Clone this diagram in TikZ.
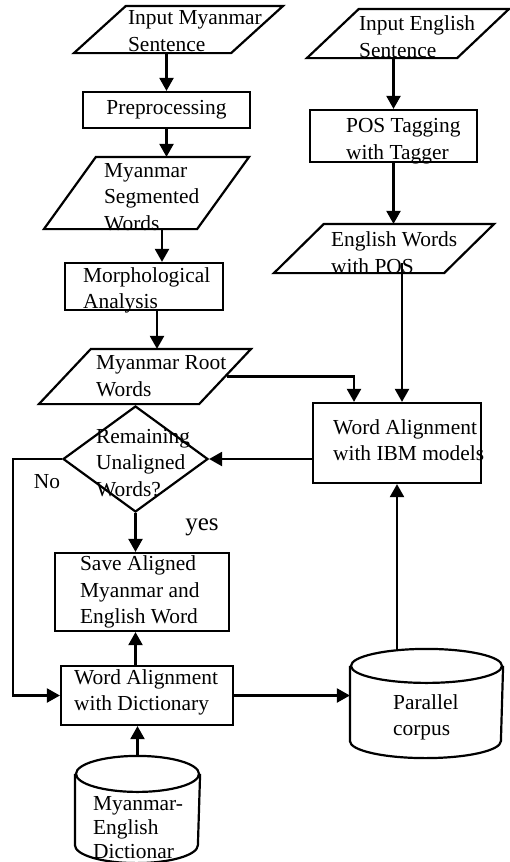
\documentclass[tikz,border=0pt]{standalone}
\usepackage{fontspec}
\setmainfont{Liberation Serif}
\usetikzlibrary{shapes.geometric, arrows.meta}

% outline of a slanted input/output box round node #1, slant #2
\newcommand{\slantbox}[2]{%
  \draw (#1.south west) -- ([xshift=-#2]#1.south east) -- (#1.north east) -- ([xshift=#2]#1.north west) -- cycle;}
% outline of a drum (database) round node #1, radii #2 and #3
\newcommand{\drum}[3]{%
  \draw ([yshift=-#3]#1.north west) -- ([yshift=#3]#1.south west)
    arc[start angle=180, end angle=360, x radius=#2, y radius=#3] -- ([yshift=-#3]#1.north east);
  \draw ([yshift=-#3]#1.north) ellipse[x radius=#2, y radius=#3];}

\begin{document}
\begin{tikzpicture}[x=1pt, y=-1pt, >={Triangle[length=13pt,width=14pt]}, line width=2.2pt,
  font=\fontsize{21.4pt}{26.5pt}\selectfont,
  box/.style={draw, rectangle, inner sep=0pt},
  io/.style={rectangle, inner sep=0pt},
  txt/.style={anchor=west, align=left, inner sep=0pt}]
  \useasboundingbox (0,0) rectangle (510,862);

  % Myanmar side
  \node[io, minimum width=207, minimum height=45] (inmy) at (178.5,29.5) {};
  \node[box, minimum width=167, minimum height=36] (prep) at (166.5,110) {Preprocessing};
  \node[io, minimum width=203, minimum height=70] (seg) at (146.5,193) {};
  \node[box, minimum width=158, minimum height=47] (morph) at (144,286.5) {};
  \node[io, minimum width=210, minimum height=53] (root) at (145,376.5) {};
  \node[draw, diamond, inner sep=0pt, minimum width=145, minimum height=106] (check) at (135.5,459) {};
  \node[box, minimum width=174, minimum height=78] (save) at (142,592) {};
  \node[box, minimum width=172, minimum height=59] (dictal) at (147,695.5) {};
  \node[io, minimum width=123, minimum height=105] (dictdb) at (137.5,809.5) {};

  % English side
  \node[io, minimum width=200, minimum height=47] (inen) at (408,33.5) {};
  \node[box, minimum width=167, minimum height=52] (pos) at (393.5,136) {};
  \node[io, minimum width=218, minimum height=47] (enpos) at (384,248.5) {};
  \node[box, minimum width=168, minimum height=80] (ibm) at (397,443) {};
  \node[io, minimum width=151, minimum height=107] (corpus) at (426.5,703.5) {};

  \slantbox{inmy}{52pt}
  \slantbox{seg}{52pt}
  \slantbox{root}{52pt}
  \slantbox{inen}{52pt}
  \slantbox{enpos}{50pt}
  \drum{dictdb}{61.5pt}{18pt}
  \drum{corpus}{75.5pt}{17pt}

  % texts
  \node[txt] (t-inmy) at (127,31) {Input Myanmar\\Sentence};
  \node[txt] (t-seg) at (103,197) {Myanmar\\Segmented\\Words};
  \node[txt] (t-morph) at (82,290.5) {Morphological\\Analysis};
  \node[txt] (t-root) at (95,376) {Myanmar Root\\Words};
  \node[txt] (t-check) at (95,463) {Remaining\\Unaligned\\Words?};
  \node[txt] (t-save) at (79,592) {Save Aligned\\Myanmar and\\English Word};
  \node[txt] (t-dictal) at (73,692.5) {Word Alignment\\with Dictionary};
  \node[txt, font=\fontsize{21.4pt}{24pt}\selectfont] (t-dictdb) at (92,828) {Myanmar-\\English\\Dictionar};
  \node[txt] (t-inen) at (358,36.5) {Input English\\Sentence};
  \node[txt] (t-pos) at (345,141) {POS Tagging\\with Tagger};
  \node[txt] (t-enpos) at (330,252.5) {English Words\\with POS};
  \node[txt] (t-ibm) at (332,440) {Word Alignment\\with IBM models};
  \node[txt] (t-corpus) at (392,717.5) {Parallel\\corpus};
  \node (no) at (47,482) {No};
  \node[font=\fontsize{25pt}{30pt}\selectfont] (yes) at (202,527) {yes};

  % arrows
  \draw[->] (inmy.south -| prep.north) -- (prep.north);
  \draw[->] (prep.south) -- (prep.south |- seg.north);
  \draw[->] ([xshift=18pt]morph.north |- seg.south) -- ([xshift=18pt]morph.north);
  \draw[->] ([xshift=13pt]morph.south) -- ([xshift=13pt]morph.south |- root.north);
  \draw[->] (inen.south -| pos.north) -- (pos.north);
  \draw[->] (pos.south) -- (pos.south |- enpos.north);
  \draw[->] ([xshift=5pt,yshift=10pt]ibm.north |- enpos.south) -- ([xshift=5pt]ibm.north);
  \draw[->] ([xshift=-24pt]root.east) -| ([xshift=-43pt]ibm.north);
  \draw[->] (ibm.west |- check.east) -- (check.east);
  \draw[->] (check.south) -- (check.south |- save.north);
  \draw[->] (check.west) -- ++(-49,0) |- (dictal.west);
  \draw[->] (dictal.north -| check.south) -- (check.south |- save.south);
  \draw[->] (dictal.east) -- (dictal.east -| corpus.west);
  \draw[->] (corpus.north -| ibm.south) -- (ibm.south);
  \draw[->] (dictdb.north) -- (dictdb.north |- dictal.south);
\end{tikzpicture}
\end{document}
